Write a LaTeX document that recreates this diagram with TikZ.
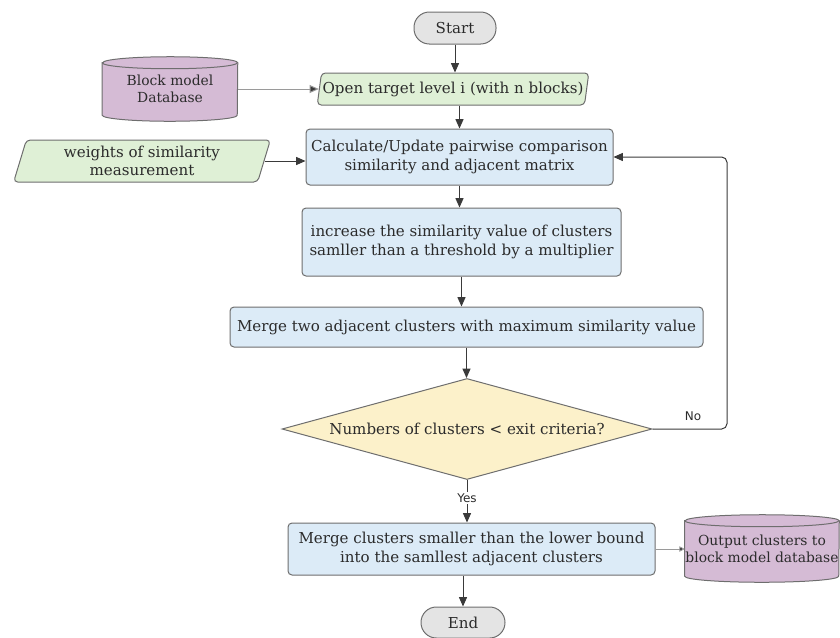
\documentclass[tikz,border=0pt]{standalone}
\usepackage{fontspec}
\setmainfont{DejaVu Serif}
\newfontfamily\labelfont{DejaVu Sans}
\usetikzlibrary{shapes.geometric,arrows.meta,calc,backgrounds}

\definecolor{procfill}{HTML}{DCEBF7}
\definecolor{iofill}{HTML}{DFF0D6}
\definecolor{storefill}{HTML}{D5BBD5}
\definecolor{decfill}{HTML}{FCF1CA}
\definecolor{termfill}{HTML}{E4E4E4}
\definecolor{edgegray}{HTML}{6E6E6E}
\definecolor{textgray}{HTML}{2B2B2B}
\definecolor{linegray}{HTML}{3A3A3A}
\definecolor{softline}{HTML}{9A9A9A}

% drum (database) outline behind a named node: #1 node, #2 half width, #3 cap radius
\newcommand\drumshape[3]{%
  \filldraw[fill=storefill, draw=edgegray, line width=0.75pt]
    ([yshift=-#3]#1.north west) -- ([yshift=#3]#1.south west)
    arc[start angle=180, end angle=360, x radius=#2, y radius=#3]
    -- ([yshift=-#3]#1.north east)
    arc[start angle=0, end angle=180, x radius=#2, y radius=#3] -- cycle;
  \draw[edgegray, line width=0.75pt]
    ([yshift=-#3]#1.north west)
    arc[start angle=180, end angle=360, x radius=#2, y radius=#3];
}

\begin{document}
\begin{tikzpicture}[x=0.75pt, y=-0.75pt,
  base/.style={draw=edgegray, line width=0.75pt, text=textgray,
    font=\fontsize{11.3}{13.7}\selectfont, align=center, inner sep=0pt},
  process/.style={base, rectangle, rounded corners=3pt, fill=procfill},
  terminal/.style={base, rectangle, rounded corners=11.5pt, fill=termfill},
  io/.style={base, trapezium, trapezium left angle=74, trapezium right angle=106,
    trapezium stretches=true, rounded corners=3pt, fill=iofill},
  decision/.style={base, diamond, aspect=3.66, fill=decfill},
  store/.style={rectangle, text=textgray, align=center, inner sep=0pt,
    font=\fontsize{10.4}{12.5}\selectfont},
  arr/.style={draw=linegray, line width=0.75pt, -{Triangle[width=6pt,length=7pt]}},
  softarr/.style={draw=softline, line width=0.75pt, -{Triangle[width=6pt,length=7pt,fill=linegray]}},
  smallarr/.style={draw=softline, line width=0.75pt, -{Triangle[width=4pt,length=4pt,fill=black]}},
  edgelabel/.style={text=textgray, font=\labelfont\fontsize{9}{11}\selectfont, inner sep=1pt}
]
\useasboundingbox (0,0) rectangle (840,637);

% main column
\node[terminal, minimum width=61.5pt, minimum height=24pt] (start) at (455,28) {Start};
\node[io, minimum width=204pt, minimum height=24pt] (open) at (453,89)
  {Open target level i (with n blocks)};
\node[process, minimum width=230.25pt, minimum height=42pt] (calc) at (459.5,157)
  {Calculate/Update pairwise comparison\\similarity and adjacent matrix};
\node[process, minimum width=239.25pt, minimum height=51pt] (inc) at (461.5,242)
  {increase the similarity value of clusters\\samller than a threshold by a multiplier};
\node[process, minimum width=354.75pt, minimum height=30pt] (merge2) at (466.5,327)
  {Merge two adjacent clusters with maximum similarity value};
\node[decision, minimum width=277.5pt, minimum height=75.75pt] (dec) at (467,429)
  {Numbers of clusters < exit criteria?};
\node[process, minimum width=275.25pt, minimum height=39pt] (mergec) at (471.5,549)
  {Merge clusters smaller than the lower bound\\into the samllest adjacent clusters};
\node[terminal, minimum width=63pt, minimum height=23.25pt] (end) at (463,622.5) {End};

% side inputs and outputs
\node[io, minimum width=192.75pt, minimum height=31.5pt] (weights) at (142,161)
  {weights of similarity\\measurement};
\node[store, minimum width=101.25pt, minimum height=48pt] (db) at (170,89)
  {Block model\\Database};
\node[store, minimum width=115.5pt, minimum height=50.25pt] (out) at (762,548.5)
  {Output clusters to\\block model database};
\begin{pgfonlayer}{background}
  \drumshape{db}{50.625pt}{4.5pt}
  \drumshape{out}{57.75pt}{4.5pt}
\end{pgfonlayer}

% loop-back column
\coordinate (loopx) at (727,0);

% connectors
\draw[arr] (start.south) -- (start.south |- open.north);
\draw[softarr] (db.east) -- (open.west);
\draw[arr] (calc.north |- open.south) -- (calc.north);
\draw[arr] (weights.east) -- (weights.east -| calc.west);
\draw[arr] (calc.south) -- (calc.south |- inc.north);
\draw[arr] (inc.south) -- (inc.south |- merge2.north);
\draw[arr] (merge2.south) -- (merge2.south |- dec.north);
\draw[arr] (dec.south) -- (dec.south |- mergec.north)
  node[pos=0.42, edgelabel, fill=white] {Yes};
\draw[arr, rounded corners=4pt] (dec.east) -- (dec.east -| loopx)
  -- (loopx |- calc.east) -- (calc.east);
\node[edgelabel] (nolabel) at (693,416) {No};
\draw[smallarr] (mergec.east) -- (mergec.east -| out.west);
\draw[arr] (end.north |- mergec.south) -- (end.north);
\end{tikzpicture}
\end{document}
